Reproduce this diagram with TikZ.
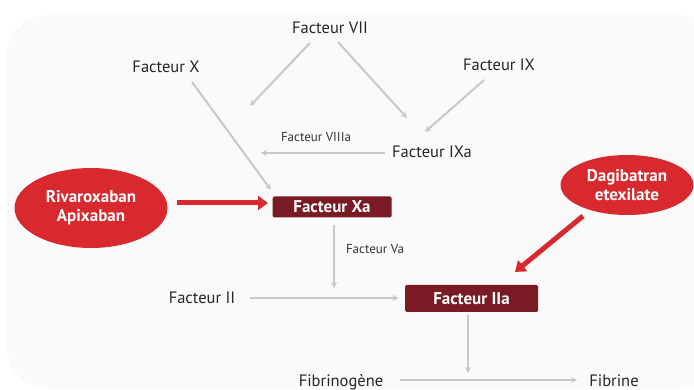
\documentclass[tikz,border=0pt]{standalone}
\usepackage{fontspec}
\setmainfont{PT Sans}
\usetikzlibrary{arrows.meta,shapes.geometric}
\definecolor{boxred}{HTML}{7A1A24}
\definecolor{drugred}{HTML}{D8292E}
\definecolor{linegray}{HTML}{C8C8C8}
\tikzset{
  lbl/.style={font=\fontsize{16.5}{19}\selectfont, text=black!85, inner sep=1pt},
  small/.style={font=\fontsize{13}{15}\selectfont, text=black!80, inner sep=1pt},
  factbox/.style={fill=boxred, text=white, font=\bfseries\fontsize{17}{19}\selectfont, inner sep=0pt, rounded corners=1.5pt},
  drug/.style={ellipse, fill=drugred, text=white, font=\bfseries\fontsize{17}{19}\selectfont, align=center, inner sep=0pt},
  gar/.style={draw=linegray, line width=2pt, -{Stealth[length=6pt,width=6pt]}},
  rar/.style={draw=drugred, line width=5pt, -{Triangle[length=10pt,width=14pt]}},
}
\begin{document}
\begin{tikzpicture}[x=1pt,y=-1pt]
\useasboundingbox (0,0) rectangle (694,390);
\fill[white] (0,0) rectangle (694,390);
\fill[black!2, rounded corners=40pt] (7,15) rectangle (720,388);
% text nodes
\node[lbl] (f7) at (330,28) {Facteur VII};
\node[lbl] (f10) at (166,67) {Facteur X};
\node[lbl] (f9) at (499,65) {Facteur IX};
\node[lbl] (f9a) at (432,152) {Facteur IXa};
\node[small] (f8a) at (316,137) {Facteur VIIIa};
\node[factbox, minimum width=119pt, minimum height=21pt] (f10a) at (332,207) {Facteur Xa};
\node[factbox, minimum width=133pt, minimum height=27pt] (f2a) at (471.5,298.5) {Facteur IIa};
\node[lbl] (f2) at (202,298) {Facteur II};
\node[small] (f5a) at (375,249) {Facteur Va};
\node[lbl] (fbg) at (341,382) {Fibrinogène};
\node[lbl] (fbr) at (614,381) {Fibrine};
\node[drug, minimum width=153pt, minimum height=80pt] (riva) at (91,208) {Rivaroxaban\\Apixaban};
\node[drug, minimum width=133pt, minimum height=60pt] (dagi) at (627,185) {Dagibatran\\etexilate};
% free ends
\coordinate (c7end) at (250,106);
\coordinate (c8end) at (261,153);
\coordinate (cVa) at (334,288);
\coordinate (cFb) at (468,373);
% grey connectors
\draw[gar] ([shift={(-20,15)}]f7.center) -- (c7end);
\draw[gar] ([shift={(8,14)}]f7.center) -- ([shift={(-25,-34)}]f9a.center);
\draw[gar] ([shift={(-15,15)}]f9.center) -- ([shift={(-7,-20)}]f9a.center);
\draw[gar] ([shift={(26,15)}]f10.center) -- ([shift={(-61,-17)}]f10a.center);
\draw[gar] ([shift={(-47,1)}]f9a.center) -- (c8end);
\draw[gar] ([shift={(2,18)}]f10a.center) -- (cVa);
\draw[gar] ([shift={(48,0)}]f2.center) -- ([shift={(-73,-0.5)}]f2a.center);
\draw[gar] ([shift={(-3.5,17)}]f2a.center) -- (cFb);
\draw[gar] ([shift={(59,-2)}]fbg.center) -- ([shift={(-37,-1)}]fbr.center);
% red arrows
\draw[rar] ([shift={(86,-5)}]riva.center) -- ([shift={(-64,-4)}]f10a.center);
\draw[rar] ([shift={(-44,31)}]dagi.center) -- ([shift={(43.5,-26.5)}]f2a.center);
\end{tikzpicture}
\end{document}
